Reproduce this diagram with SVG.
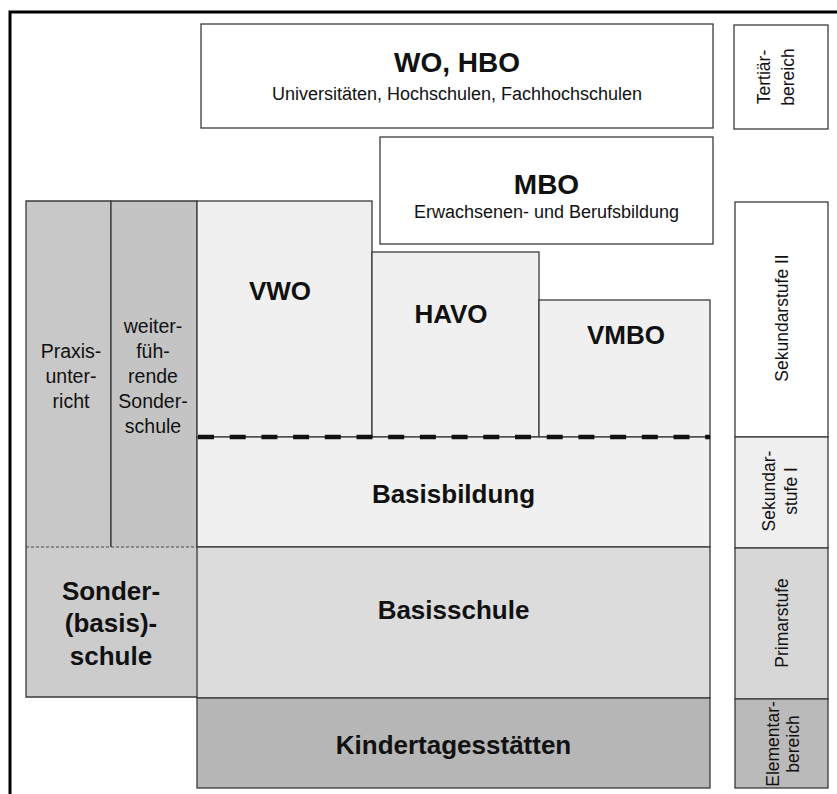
<svg xmlns="http://www.w3.org/2000/svg" width="837" height="794" viewBox="0 0 837 794">
  <style>
    .box { stroke: #3a3a3a; stroke-width: 1.3; }
    .edge { fill: none; stroke: #3a3a3a; stroke-width: 1.3; }
    .t { font-family: "Liberation Sans", Arial, sans-serif; fill: #111; text-anchor: middle; }
    .bold { font-weight: bold; font-size: 26px; }
    .big { font-weight: bold; font-size: 28px; }
    .sub { font-size: 18px; }
    .col { font-size: 19.5px; }
    .side { font-size: 17.5px; }
    .white { fill: #ffffff; }
    .light { fill: #f0f0f0; }
    .mid { fill: #dcdcdc; }
    .grey { fill: #c8c8c8; }
    .dark { fill: #b6b6b6; }
  </style>

  <rect width="837" height="794" fill="#ffffff"/>

  <!-- outer frame: left and top edges only -->
  <g id="frame">
    <path d="M10,794 V12 H837" fill="none" stroke="#000" stroke-width="3"/>
  </g>

  <!-- tertiary level -->
  <g id="wo-hbo">
    <rect class="box white" x="201" y="24" width="512" height="104"/>
    <text class="t big" x="457" y="72">WO, HBO</text>
    <text class="t sub" x="457" y="100">Universitäten, Hochschulen, Fachhochschulen</text>
  </g>

  <g id="mbo">
    <rect class="box white" x="380" y="137" width="333" height="107"/>
    <text class="t big" x="546.5" y="194">MBO</text>
    <text class="t sub" x="546.5" y="218">Erwachsenen- und Berufsbildung</text>
  </g>

  <!-- special education columns -->
  <g id="praxisunterricht">
    <rect class="grey" x="26" y="201" width="85" height="346"/>
    <path class="edge" d="M26,547 V201 H111 V547"/>
    <text class="t col" x="71" y="358">Praxis-</text>
    <text class="t col" x="71" y="383">unter-</text>
    <text class="t col" x="71" y="408">richt</text>
  </g>

  <g id="weiterfuehrende-sonderschule">
    <rect x="111" y="201" width="86" height="346" fill="#c4c4c4"/>
    <path class="edge" d="M111,547 V201 H197 V547"/>
    <text class="t col" x="153" y="333">weiter-</text>
    <text class="t col" x="153" y="358">füh-</text>
    <text class="t col" x="153" y="383">rende</text>
    <text class="t col" x="153" y="408">Sonder-</text>
    <text class="t col" x="153" y="433">schule</text>
  </g>

  <g id="sonderbasisschule">
    <rect x="26" y="547" width="171" height="150" fill="#cccccc"/>
    <path class="edge" d="M26,547 V697 H197"/>
    <path d="M26,547 H197" fill="none" stroke="#444" stroke-width="1" stroke-dasharray="3 2"/>
    <text class="t bold" x="111" y="600">Sonder-</text>
    <text class="t bold" x="111" y="632">(basis)-</text>
    <text class="t bold" x="111" y="665">schule</text>
  </g>

  <!-- secondary level II -->
  <g id="vwo">
    <rect class="box light" x="197" y="201" width="175" height="236"/>
    <text class="t bold" x="280" y="300">VWO</text>
  </g>

  <g id="havo">
    <rect class="box light" x="372" y="252" width="167" height="185"/>
    <text class="t bold" x="451" y="323">HAVO</text>
  </g>

  <g id="vmbo">
    <rect class="box light" x="539" y="300" width="171" height="137"/>
    <text class="t bold" x="626" y="344">VMBO</text>
  </g>

  <!-- secondary level I, primary, pre-school -->
  <g id="basisbildung">
    <rect class="box light" x="197" y="437" width="513" height="110"/>
    <text class="t bold" x="453.5" y="503">Basisbildung</text>
  </g>

  <g id="basisschule">
    <rect class="box mid" x="197" y="547" width="513" height="151"/>
    <text class="t bold" x="453.5" y="619">Basisschule</text>
  </g>

  <g id="kindertagesstaetten">
    <rect class="box dark" x="197" y="698" width="513" height="90"/>
    <text class="t bold" x="453.5" y="754">Kindertagesstätten</text>
  </g>

  <!-- boundary between lower and upper secondary -->
  <g id="divider">
    <path d="M198,437 H710" fill="none" stroke="#111" stroke-width="4.5" stroke-dasharray="16 15.7"/>
  </g>

  <!-- level scale on the right -->
  <g id="tertiaerbereich">
    <rect class="box white" x="734" y="25" width="94" height="104"/>
    <text class="t side" transform="translate(770,77) rotate(-90)">Tertiär-<tspan x="0" dy="24">bereich</tspan></text>
  </g>

  <g id="sekundarstufe-2">
    <rect class="box white" x="735" y="202" width="93" height="235"/>
    <text class="t side" transform="translate(788,318) rotate(-90)">Sekundarstufe II</text>
  </g>

  <g id="sekundarstufe-1">
    <rect class="box" x="735" y="437" width="93" height="111" fill="#efefef"/>
    <text class="t side" transform="translate(775,491) rotate(-90)">Sekundar-<tspan x="0" dy="22">stufe I</tspan></text>
  </g>

  <g id="primarstufe">
    <rect class="box" x="735" y="548" width="93" height="151" fill="#d7d7d7"/>
    <text class="t side" transform="translate(788,623) rotate(-90)">Primarstufe</text>
  </g>

  <g id="elementarbereich">
    <rect class="box" x="735" y="699" width="93" height="89" fill="#bababa"/>
    <text class="t side" transform="translate(779,744) rotate(-90)">Elementar-<tspan x="0" dy="20">bereich</tspan></text>
  </g>
</svg>
